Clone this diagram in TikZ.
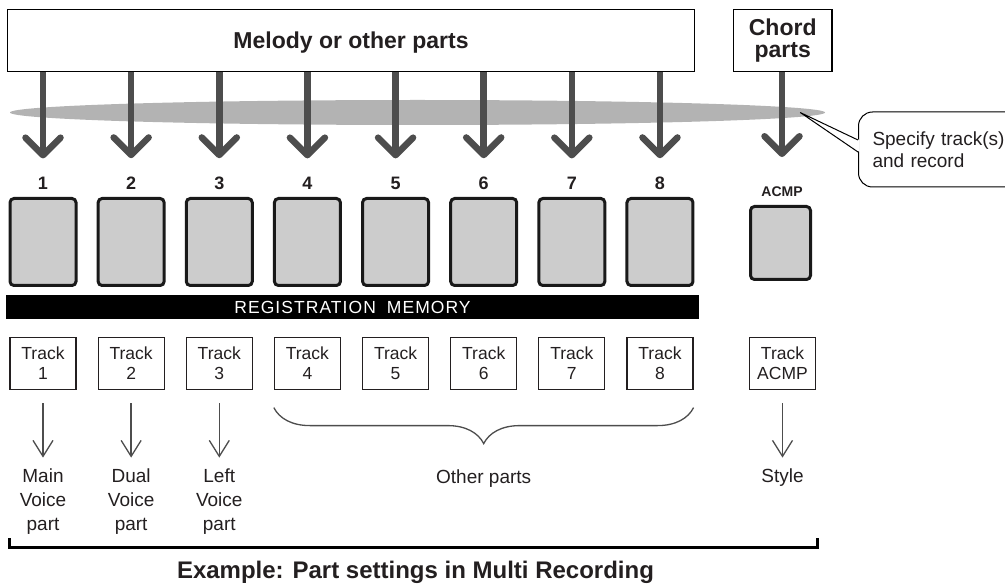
\documentclass[tikz,border=0pt]{standalone}
\usepackage{fontspec}
\setmainfont{Liberation Sans}
\usepackage{tikz}
\usetikzlibrary{arrows.meta,positioning,decorations.pathreplacing,shapes.geometric}
\definecolor{mrink}{HTML}{231F20}
\definecolor{mrarrow}{HTML}{4D4D4D}
\definecolor{mrband}{HTML}{B3B3B3}
\definecolor{mrpad}{HTML}{CCCCCC}

\begin{document}
\begin{tikzpicture}[x=1pt,y=-1pt,text=mrink,font=\fontsize{19}{24}\selectfont,
    partbox/.style={draw=black,line width=1.5pt,fill=white,inner sep=0pt,font=\bfseries\fontsize{23}{22}\selectfont},
    bigarrow/.style={draw=mrarrow,line width=6.5pt,-{Straight Barb[length=17.5pt,width=35pt,round]}},
    pad/.style={draw=black!90,line width=3pt,fill=mrpad,rounded corners=4pt,inner sep=0pt,minimum width=66pt,minimum height=87pt},
    trackbox/.style={draw=mrink,line width=1.2pt,inner sep=0pt,minimum width=66pt,minimum height=52pt,align=center,font=\fontsize{17.5}{20}\selectfont},
    thinarrow/.style={draw=mrarrow,line width=1.3pt,-{Straight Barb[length=16pt,width=20pt]}},
    partlabel/.style={anchor=north,inner sep=0pt,align=center}]
  \useasboundingbox (0,0) rectangle (1005,588);
  \node[fill=mrband,ellipse,inner sep=0pt,minimum width=815pt,minimum height=25pt] (band) at (417.5,112.5) {};
  \node[partbox,minimum width=687pt,minimum height=62pt,text depth=0pt] (melody) at (351,40.5) {Melody or other parts};
  \node[partbox,minimum width=98.5pt,minimum height=62pt,align=center] (chord) at (782.7,40.5) {Chord\\parts};
  \foreach \i in {1,...,8} {
    \pgfmathsetmacro{\x}{43+88.14*(\i-1)}
    \node[anchor=base,inner sep=0pt,font=\bfseries\fontsize{18}{18}\selectfont] (n\i) at (\x,190) {\i};
    \draw[bigarrow] (melody.south -| n\i) -- ([yshift=19pt]n\i.north);
    \node[pad] (p\i) at (\x,242) {};
    \node[trackbox] (t\i) at (\x,363.5) {Track\\\i};
  }
  \node[anchor=base,inner sep=0pt,font=\bfseries\fontsize{14}{14}\selectfont] (nA) at (782,196.5) {ACMP};
  \draw[bigarrow] (chord.south -| nA) -- ([yshift=29.5pt]nA.north);
  \node[pad,minimum width=60pt,minimum height=73pt] (pA) at (780.5,243) {};
  \node[trackbox] (tA) at (782.5,363.5) {Track\\ACMP};
  \node[fill=black,inner sep=0pt,minimum width=693pt,minimum height=24pt,text=white,
    font=\fontsize{17.5}{17.5}\selectfont\addfontfeature{LetterSpace=6}] (regmem) at (352.5,307)
    {REGISTRATION\hspace{11pt}MEMORY};
  \node[partlabel,below=78.5pt of t1] (l1) {Main\\Voice\\part};
  \node[partlabel,below=78.5pt of t2] (l2) {Dual\\Voice\\part};
  \node[partlabel,below=78.5pt of t3] (l3) {Left\\Voice\\part};
  \node[partlabel,below=78.5pt of tA] (lA) {Style};
  \foreach \i in {1,2,3,A}
    \draw[thinarrow] ([yshift=-13pt]t\i.south) -- ([yshift=11pt]l\i.north);
  \draw[draw=mrarrow,line width=1.3pt,decorate,decoration={brace,mirror,amplitude=36pt}]
    ([yshift=-17.5pt]t4.south west) -- node[partlabel,yshift=-61pt] (other) {Other parts}
    ([yshift=-17.5pt]t8.south east);
  \coordinate (tip) at ([xshift=-25pt]band.east);
  \node[draw=black,line width=1pt,rounded corners=14pt,fill=white,anchor=west,text width=140pt,
    align=left,inner xsep=14pt,inner ysep=0pt,minimum height=75pt,font=\fontsize{19}{22}\selectfont]
    (spec) at (858,149.5) {Specify track(s)\\and record};
  \fill[white] ([xshift=1.5pt,yshift=9.5pt]spec.west) -- (tip) -- ([xshift=1.5pt,yshift=-2.5pt]spec.west) -- cycle;
  \draw[line width=1pt] ([yshift=9.5pt]spec.west) -- (tip) -- ([yshift=-2.5pt]spec.west);
  \draw[line width=3pt] (9,538) -- (9,547.5) -- (817,547.5) -- (817,538);
  \node[anchor=base,font=\bfseries\fontsize{24}{24}\selectfont] (caption) at (415.5,578)
    {Example: Part settings in Multi Recording};
\end{tikzpicture}
\end{document}
